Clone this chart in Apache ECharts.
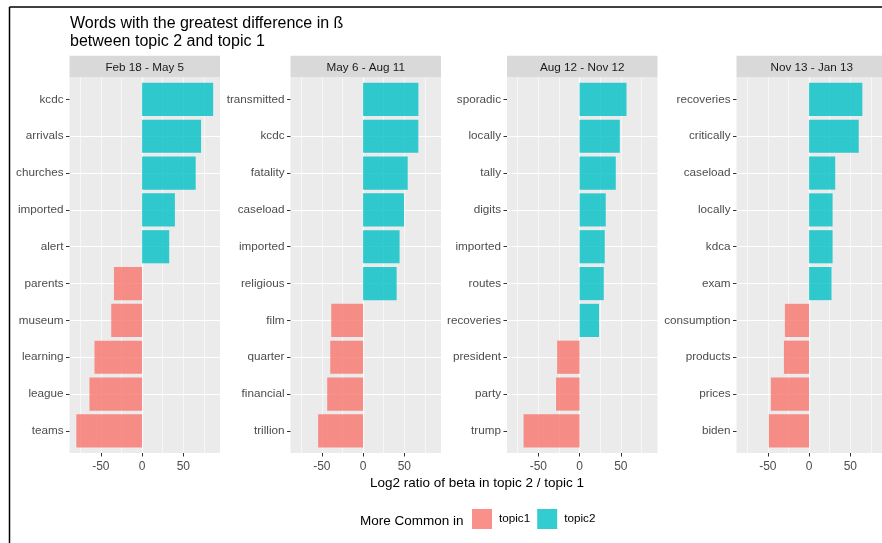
<!DOCTYPE html>
<html>
<head>
<meta charset="utf-8">
<script src="https://cdn.jsdelivr.net/npm/echarts@6/dist/echarts.min.js"></script>
<style>
  html, body { margin: 0; padding: 0; background: #ffffff; }
  #chart { width: 882px; height: 543px; }
</style>
</head>
<body>
<div id="chart"></div>
<script>
// Facet headings (date ranges)
const periods = ['Feb 18 - May 5', 'May 6 - Aug 11', 'Aug 12 - Nov 12', 'Nov 13 - Jan 13'];

// Words per facet, listed top to bottom
const wordsFeb = ['kcdc', 'arrivals', 'churches', 'imported', 'alert', 'parents', 'museum', 'learning', 'league', 'teams'];
const wordsMay = ['transmitted', 'kcdc', 'fatality', 'caseload', 'imported', 'religious', 'film', 'quarter', 'financial', 'trillion'];
const wordsAug = ['sporadic', 'locally', 'tally', 'digits', 'imported', 'routes', 'recoveries', 'president', 'party', 'trump'];
const wordsNov = ['recoveries', 'critically', 'caseload', 'locally', 'kdca', 'exam', 'consumption', 'products', 'prices', 'biden'];

// Log2 ratio of beta (topic 2 / topic 1), same order as the words
const ratioFeb = [86.2, 71.5, 65.0, 39.8, 32.9, -34.1, -37.4, -57.7, -63.8, -79.7];
const ratioMay = [67.1, 67.0, 54.1, 49.6, 44.3, 40.7, -38.6, -39.8, -43.5, -54.5];
const ratioAug = [56.9, 48.8, 43.9, 31.7, 30.5, 29.3, 23.6, -27.2, -28.5, -67.9];
const ratioNov = [64.6, 60.2, 31.7, 28.5, 28.5, 27.2, -29.3, -30.5, -46.3, -48.8];

// x axis tick labels
const xTicks = [-50, 0, 50];

const legendNames = ['topic1', 'topic2'];

const facets = [
  { words: wordsFeb, values: ratioFeb },
  { words: wordsMay, values: ratioMay },
  { words: wordsAug, values: ratioAug },
  { words: wordsNov, values: ratioNov }
];

// ---- layout & style ----
const FONT = '"Liberation Sans", Arial, sans-serif';
const COL1 = '#F8766D';
const COL2 = '#00BFC4';
const X_MIN = -88, X_MAX = 94.5;
const PANEL_LEFTS = [69.5, 290.5, 507, 736.5];
const PANEL_W = 150.5;
const PANEL_TOP = 77.3, PANEL_H = 375.7;
const STRIP_TOP = 55.7;

const chart = echarts.init(document.getElementById('chart'), null, { renderer: 'canvas' });

const grids = [], xAxes = [], yAxes = [], series = [], graphics = [];

function renderBar(color) {
  return function (params, api) {
    const pos = api.value(0);
    const val = api.value(1);
    const a = api.coord([0, pos]);
    const b = api.coord([val, pos]);
    const h = api.size([0, 0.9])[1];
    return {
      type: 'rect',
      shape: { x: Math.min(a[0], b[0]), y: a[1] - h / 2, width: Math.abs(b[0] - a[0]), height: h },
      style: { fill: color, opacity: 0.8 }
    };
  };
}

facets.forEach((f, p) => {
  const n = f.words.length;
  grids.push({
    left: PANEL_LEFTS[p], top: PANEL_TOP, width: PANEL_W, height: PANEL_H,
    show: true, backgroundColor: '#EBEBEB', borderWidth: 0,
    containLabel: false, outerBoundsMode: 'none'
  });
  // major vertical grid lines, ticks, labels
  xAxes.push({
    type: 'value', gridIndex: p, min: X_MIN, max: X_MAX,
    minInterval: 50, maxInterval: 50, position: 'bottom',
    axisLine: { show: false, onZero: false },
    axisTick: { show: true, length: 3.5, customValues: xTicks, lineStyle: { color: '#333333', width: 1 } },
    axisLabel: { customValues: xTicks, color: '#4D4D4D', fontSize: 12, fontFamily: FONT, margin: 8 },
    splitLine: { show: true, showMinLine: false, showMaxLine: false, lineStyle: { color: '#FFFFFF', width: 1.2 } }
  });
  // minor vertical grid lines
  xAxes.push({
    type: 'value', gridIndex: p, min: X_MIN, max: X_MAX,
    minInterval: 25, maxInterval: 25, position: 'top',
    axisLine: { show: false, onZero: false }, axisTick: { show: false }, axisLabel: { show: false },
    splitLine: { show: true, showMinLine: false, showMaxLine: false, lineStyle: { color: '#FFFFFF', width: 0.6 } }
  });
  const yVals = f.words.map((w, i) => n - i);
  yAxes.push({
    type: 'value', gridIndex: p, min: 0.4, max: n + 0.6,
    minInterval: 1, maxInterval: 1, position: 'left',
    axisLine: { show: false, onZero: false },
    axisTick: { show: true, length: 3.5, customValues: yVals, lineStyle: { color: '#333333', width: 1 } },
    axisLabel: {
      customValues: yVals, color: '#4D4D4D', fontSize: 11.7, fontFamily: FONT, margin: 6,
      formatter: v => (Number.isInteger(v) && v >= 1 && v <= n) ? f.words[n - v] : ''
    },
    splitLine: { show: true, showMinLine: false, showMaxLine: false, lineStyle: { color: '#FFFFFF', width: 1.2 } }
  });
  const neg = [], pos = [];
  f.values.forEach((v, i) => { (v < 0 ? neg : pos).push([n - i, v]); });
  series.push({
    type: 'custom', name: legendNames[0], xAxisIndex: 2 * p, yAxisIndex: p,
    itemStyle: { color: COL1, opacity: 0.8 }, encode: { x: 1, y: 0 },
    renderItem: renderBar(COL1), data: neg, z: 3
  });
  series.push({
    type: 'custom', name: legendNames[1], xAxisIndex: 2 * p, yAxisIndex: p,
    itemStyle: { color: COL2, opacity: 0.8 }, encode: { x: 1, y: 0 },
    renderItem: renderBar(COL2), data: pos, z: 3
  });
  // facet strip
  graphics.push({
    type: 'rect', z: 10,
    shape: { x: PANEL_LEFTS[p], y: STRIP_TOP, width: PANEL_W, height: PANEL_TOP - STRIP_TOP },
    style: { fill: '#D9D9D9' }
  });
  graphics.push({
    type: 'text', z: 11,
    x: PANEL_LEFTS[p] + PANEL_W / 2, y: (STRIP_TOP + PANEL_TOP) / 2 + 1,
    style: { text: periods[p], fill: '#1A1A1A', font: '11.7px ' + FONT, align: 'center', verticalAlign: 'middle' }
  });
});

// axis title
graphics.push({
  type: 'text', z: 11, x: 477, y: 483,
  style: { text: 'Log2 ratio of beta in topic 2 / topic 1', fill: '#000000', font: '13.5px ' + FONT, align: 'center', verticalAlign: 'middle' }
});
// legend title
graphics.push({
  type: 'text', z: 11, x: 360, y: 521,
  style: { text: 'More Common in', fill: '#000000', font: '13.5px ' + FONT, align: 'left', verticalAlign: 'middle' }
});
// frame lines
graphics.push({ type: 'line', z: 12, shape: { x1: 9.5, y1: 7, x2: 9.5, y2: 543 }, style: { stroke: '#000000', lineWidth: 1.5 } });
graphics.push({ type: 'line', z: 12, shape: { x1: 9.5, y1: 7, x2: 882, y2: 7 }, style: { stroke: '#000000', lineWidth: 1.5 } });

chart.setOption({
  animation: false,
  backgroundColor: '#FFFFFF',
  title: {
    text: 'Words with the greatest difference in ß\nbetween topic 2 and topic 1',
    left: 70, top: 15, padding: 0,
    textStyle: { fontFamily: FONT, fontSize: 16, fontWeight: 'normal', color: '#000000', lineHeight: 17.6 }
  },
  legend: {
    data: legendNames, left: 472, top: 509, orient: 'horizontal', padding: 0,
    itemWidth: 20, itemHeight: 20, itemGap: 7, icon: 'rect',
    textStyle: { fontFamily: FONT, fontSize: 11.7, color: '#000000', padding: [0, 0, 0, 2] },
    selectedMode: false
  },
  grid: grids,
  xAxis: xAxes,
  yAxis: yAxes,
  series: series,
  graphic: graphics
});
</script>
</body>
</html>
